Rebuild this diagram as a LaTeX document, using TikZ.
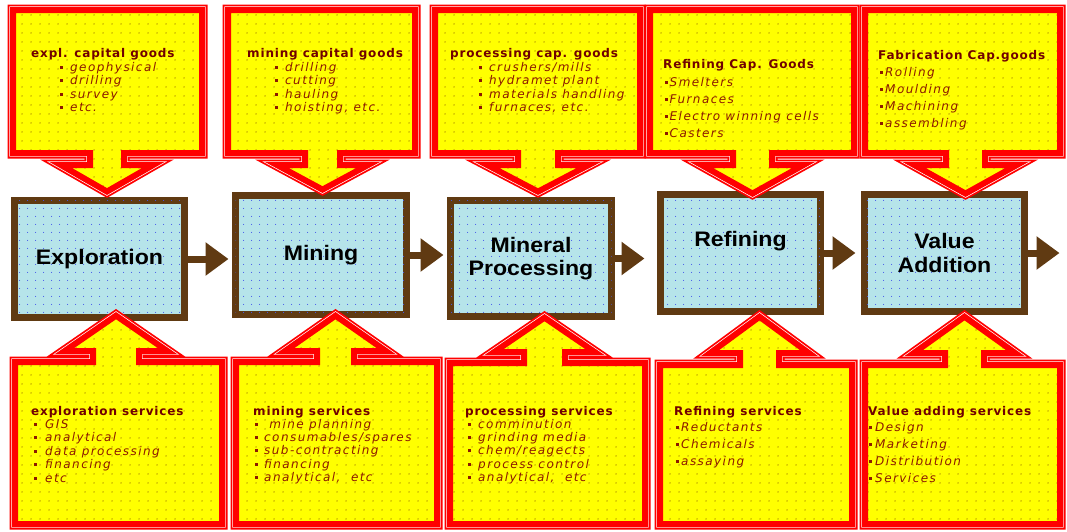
\documentclass[tikz,border=0pt]{standalone}
\usepackage{fontspec}
\setmainfont{DejaVu Sans}
\newfontfamily\boxfont{Liberation Sans}[FakeStretch=1.1]
\usetikzlibrary{arrows.meta,patterns.meta}

\definecolor{cyel}{RGB}{255,255,0}
\definecolor{cred}{RGB}{255,0,0}
\definecolor{dotcol}{RGB}{150,110,0}
\definecolor{boxfill}{RGB}{182,228,234}
\definecolor{boxdot}{RGB}{70,90,235}
\definecolor{boxline}{RGB}{96,58,18}
\definecolor{headcol}{RGB}{112,0,0}
\definecolor{itemcol}{RGB}{140,25,0}

% dotted grid textures
\tikzdeclarepattern{name=yeldots, type=uncolored,
  bounding box={(0pt,0pt) and (9pt,9pt)}, tile size={(9pt,9pt)},
  code={\fill (4.5pt,4.5pt) circle (0.75pt);}}
\tikzdeclarepattern{name=bluedots, type=uncolored,
  bounding box={(0pt,0pt) and (8pt,8pt)}, tile size={(8pt,8pt)},
  code={\fill (4pt,4pt) circle (0.6pt);}}

\newcommand\bul{\rule[2.5pt]{3pt}{3pt}}

% callout: left, right, outer edge y, body edge y, neck left, neck right,
% wing half width, wing y, tip y
\newcommand\callout[9]{%
  \pgfmathsetmacro\cx{(#5+#6)/2}%
  \def\cpath{(#1,#3) -- (#2,#3) -- (#2,#4) -- (#6,#4) -- (#6,#8) -- (\cx+#7,#8)
    -- (\cx,#9) -- (\cx-#7,#8) -- (#5,#8) -- (#5,#4) -- (#1,#4) -- cycle}%
  \fill[cyel] \cpath;
  \fill[pattern=yeldots, pattern color=dotcol] \cpath;
  \draw[cred, line width=5pt] \cpath;
  \draw[white, line width=1.4pt] \cpath;
  \begin{scope}\clip \cpath; \draw[cred, line width=12pt] \cpath; \end{scope}%
}

% bulleted list: name prefix, bullet x, text offset, first baseline, step, items
\newcommand\itemlist[6]{%
  \foreach \t [count=\i from 0] in {#6}{%
    \node[itm] (#1\i) at (#2, #4+\i*#5) {\makebox[#3pt][l]{\bul}\t};}%
}

\begin{document}
\begin{tikzpicture}[x=1pt, y=-1pt,
  stage/.style={draw=boxline, line width=7pt, fill=boxfill, inner sep=0pt,
    font=\boxfont\bfseries\fontsize{21}{23.5}\selectfont, align=center,
    postaction={pattern=bluedots, pattern color=boxdot}},
  stagetext/.style={inner sep=0pt, font=\boxfont\bfseries\fontsize{21}{23.5}\selectfont},
  flow/.style={draw=boxline, line width=7pt, -{Triangle[length=23pt,width=32pt]}},
  head/.style={anchor=base west, inner sep=0pt, text=headcol,
    font=\fontsize{12}{14}\selectfont\bfseries\addfontfeatures{LetterSpace=7}},
  itm/.style={anchor=base west, inner sep=0pt, text=itemcol,
    font=\fontsize{12}{14}\selectfont\itshape\addfontfeatures{LetterSpace=12}}]

\fill[white] (0,0) rectangle (1067,531);
\useasboundingbox (0,0) rectangle (1067,531);

% value chain stages
\node[stage, minimum width=170pt, minimum height=117pt] (b1) at (99.5,259) {Exploration};
\node[stage, minimum width=171pt, minimum height=119pt] (b2) at (321,255) {Mining};
\node[stage, minimum width=161pt, minimum height=116pt] (b3) at (531,258.5) {Mineral\\Processing};
\node[stage, minimum width=160pt, minimum height=117pt] (b4) at (740.5,253) {};
\node[stagetext, yshift=12pt] (t4) at (b4) {Refining};
\node[stage, minimum width=160pt, minimum height=117pt] (b5) at (944.5,253) {Value\\Addition};

% flow between stages
\coordinate (e3) at ([xshift=29.5pt]b3.east);
\coordinate (e4) at ([xshift=31.5pt]b4.east);
\coordinate (e5) at ([xshift=31.5pt]b5.east);
\draw[flow, shorten >=3.5pt] (b1.east) -- (b1.east -| b2.west);
\draw[flow, shorten >=3.5pt] (b2.east) -- (b2.east -| b3.west);
\draw[flow] (b3.east) -- (e3);
\draw[flow] (b4.east) -- (e4);
\draw[flow] (b5.east) -- (e5);

% capital goods callouts
\callout{10}{205}{7}{156}{87}{127}{57.5}{162}{195}
\callout{225}{418}{7}{156}{302}{343}{57.5}{162}{193}
\callout{432}{643}{7}{156}{515}{561}{63}{162}{195}
\callout{647}{857}{7}{156}{730}{775}{62.5}{162}{197}
\callout{862}{1063}{7}{156}{943}{988}{63}{162}{197}

% services callouts
\callout{12}{225}{527}{359}{90}{142}{61}{354}{312}
\callout{233}{440}{527}{359}{314}{357}{60}{354}{312}
\callout{447}{648}{527}{360}{521}{568}{60}{355}{314}
\callout{657}{855}{527}{362}{737}{782}{58.5}{356}{313}
\callout{862}{1063}{527}{362}{942}{987}{60}{356}{313}

% capital goods texts
\node[head] (h1) at (31,57) {expl. capital goods};
\itemlist{i1}{60}{10}{71}{13.5}{geophysical, drilling, survey, etc.}
\node[head] (h2) at (247,57) {mining capital goods};
\itemlist{i2}{275}{10}{71}{13.5}{drilling, cutting, hauling, {hoisting, etc.}}
\node[head] (h3) at (450,57) {processing cap. goods};
\itemlist{i3}{479}{10}{71}{13.5}{crushers/mills, hydramet plant, materials handling, {furnaces, etc.}}
\node[head] (h4) at (663,68) {Refining Cap. Goods};
\itemlist{i4}{665}{4.5}{86}{17}{Smelters, Furnaces, Electro winning cells, Casters}
\node[head] (h5) at (878,59) {Fabrication Cap.goods};
\itemlist{i5}{880}{5}{76}{17}{Rolling, Moulding, Machining, assembling}

% services texts
\node[head] (s1) at (31,415) {exploration services};
\itemlist{j1}{34}{11}{428}{13.5}{GIS, analytical, data processing, financing, etc}
\node[head] (s2) at (253,415) {mining services};
\itemlist{j2}{255}{9}{428.5}{13.2}{{\ mine planning}, consumables/spares, sub-contracting, financing, {analytical,\ \ etc}}
\node[head] (s3) at (465,415) {processing services};
\itemlist{j3}{468}{10}{428.5}{13.2}{comminution, grinding media, chem/reagects, process control, {analytical,\ \ etc}}
\node[head] (s4) at (674,415) {Refining services};
\itemlist{j4}{676}{5}{431}{17}{Reductants, Chemicals, assaying}
\node[head] (s5) at (868,415) {Value adding services};
\itemlist{j5}{869}{6}{431}{17}{Design, Marketing, Distribution, Services}

\end{tikzpicture}
\end{document}
